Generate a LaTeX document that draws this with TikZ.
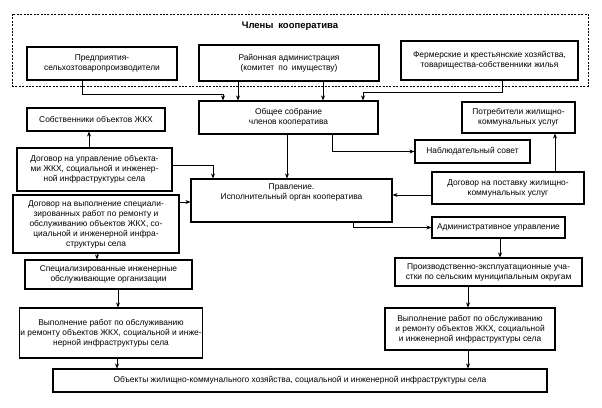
\documentclass[tikz,border=0pt]{standalone}
\usepackage{fontspec}
\setmainfont{Liberation Sans}
\usetikzlibrary{arrows.meta}
\begin{document}
\begin{tikzpicture}[x=1pt,y=-1pt,
  box/.style={draw, line width=1.1pt, align=center, inner sep=1pt, font=\fontsize{8.4}{10}\selectfont},
  frame/.style={draw, line width=1pt, dash pattern=on 2pt off 1.4pt},
  arr/.style={line width=0.7pt, -{Stealth[length=5pt,width=4pt]}},
  txt/.style={align=center, inner sep=0pt, font=\fontsize{8.4}{10}\selectfont}]
\useasboundingbox (0,0) rectangle (602,407);
% members frame
\node[frame, minimum width=576pt, minimum height=72pt] (frm) at (300,50) {};
\node[inner sep=0pt, font=\fontsize{9.5}{11}\selectfont\bfseries] (ttl) at (290,26) {Члены\enspace кооператива};
\node[box, minimum width=150pt, minimum height=33pt] (p1) at (102,63.5) {Предприятия-\\сельхозтоваропроизводители};
\node[box, minimum width=180pt, minimum height=36pt] (p2) at (289,63) {Районная администрация\\(комитет\enspace по\enspace имуществу)};
\node[box, minimum width=177pt, minimum height=39pt] (p3) at (489.5,60.5) {Фермерские и крестьянские хозяйства,\\товарищества-собственники жилья};
% middle
\node[box, minimum width=179pt, minimum height=33pt] (gen) at (288.5,117.5) {Общее собрание\\членов кооператива};
\node[box, minimum width=138pt, minimum height=23pt] (own) at (96,119.5) {Собственники объектов ЖКХ};
\node[box, minimum width=113pt, minimum height=31pt] (cons) at (518.5,117.5) {Потребители жилищно-\\коммунальных услуг};
\node[box, minimum width=115pt, minimum height=23pt] (nab) at (472.5,151.5) {Наблюдательный совет};
\node[box, minimum width=155pt, minimum height=43pt] (dog1) at (94.5,169.5) {Договор на управление объекта-\\ми ЖКХ, социальной и инженер-\\ной инфраструктуры села};
\node[box, minimum width=201pt, minimum height=43pt] (prav) at (291.5,200.5) {};
\node[txt, anchor=north] (pravt) at ([yshift=-5pt]prav.north) {Правление.\\Исполнительный орган кооператива};
\node[box, minimum width=152pt, minimum height=32pt] (dog2) at (508,188) {Договор на поставку жилищно-\\коммунальных услуг};
\node[box, minimum width=166pt, minimum height=58pt] (dog3) at (96,224) {Договор на выполнение специали-\\зированных работ по ремонту и\\обслуживанию объектов ЖКХ, со-\\циальной и инженерной инфра-\\структуры села};
\node[box, minimum width=133pt, minimum height=21pt] (adm) at (498.5,227.5) {Административное управление};
% lower
\node[box, minimum width=167pt, minimum height=29pt] (spec) at (108.5,274.5) {Специализированные инженерные\\обслуживающие организации};
\node[box, minimum width=187pt, minimum height=28pt] (proizv) at (488.5,272) {Производственно-эксплуатационные уча-\\стки по сельским муниципальным округам};
\node[box, minimum width=172pt, minimum height=50pt] (vyp1) at (111,333) {Выполнение работ по обслуживанию\\и ремонту объектов ЖКХ, социальной и инже-\\нерной инфраструктуры села};
\node[box, minimum width=170pt, minimum height=42pt] (vyp2) at (470,329) {Выполнение работ по обслуживанию\\и ремонту объектов ЖКХ, социальной\\и инженерной инфраструктуры села};
\node[box, minimum width=494pt, minimum height=23pt] (obj) at (300,380.5) {Объекты жилищно-коммунального хозяйства, социальной и инженерной инфраструктуры села};
% connectors
\draw[arr] (p1.south -| 82,0) |- (223,94) -- (gen.north -| 223,0);
\draw[arr] (p2.south -| 238,0) -- (gen.north -| 238,0);
\draw[arr] (p2.south -| 323,0) -- (gen.north -| 323,0);
\draw[arr] (p3.south -| 502,0) |- (363,92) -- (gen.north -| 363,0);
\draw[arr] (dog1.north -| 89,0) -- (own.south -| 89,0);
\draw[arr] (dog1.east |- 0,165) -| (prav.north -| 213,0);
\draw[arr] (gen.south -| 287,0) -- (prav.north -| 287,0);
\draw[arr] (gen.south -| 332,0) |- (nab.west);
\draw[arr] (dog2.north -| 555,0) -- (cons.south -| 555,0);
\draw[arr] (dog2.west |- 0,195) -- (prav.east |- 0,195);
\draw[arr] (dog3.east |- 0,202) -- (prav.west |- 0,202);
\draw[arr] (prav.south -| 353,0) |- (adm.west);
\draw[arr] (adm.south -| 500,0) -- (proizv.north -| 500,0);
\draw[arr] (dog3.south -| 97,0) -- (spec.north -| 97,0);
\draw[arr] (spec.south -| 118,0) -- (vyp1.north -| 118,0);
\draw[arr] (vyp1.south -| 117,0) -- (obj.north -| 117,0);
\draw[arr] (proizv.south -| 468,0) -- (vyp2.north -| 468,0);
\draw[arr] (vyp2.south -| 468,0) -- (obj.north -| 468,0);
\end{tikzpicture}
\end{document}
